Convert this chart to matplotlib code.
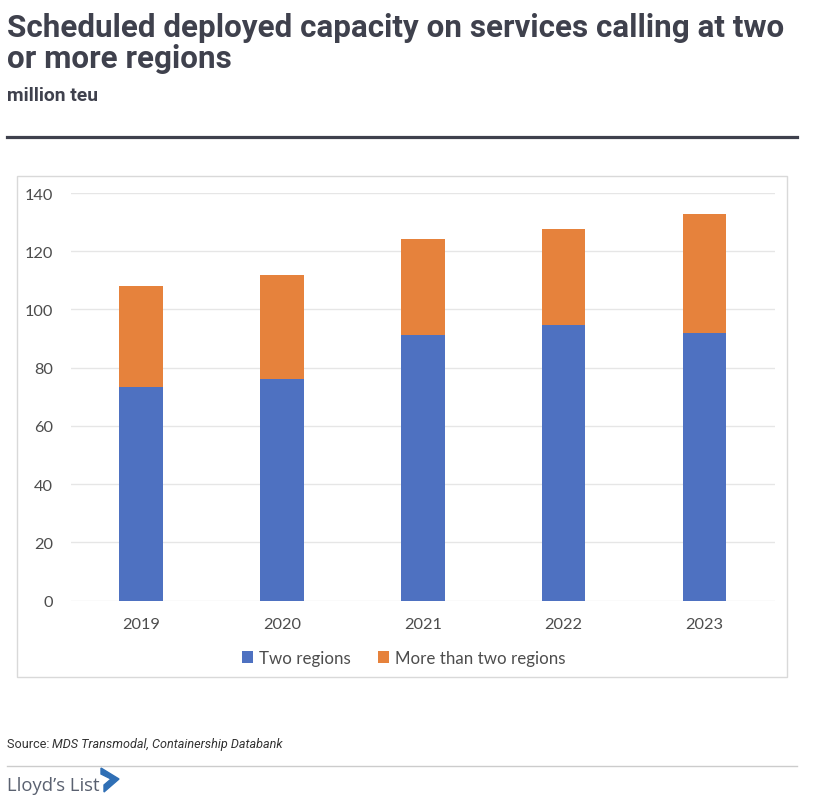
import numpy as np
from matplotlib import pyplot as plt
from matplotlib.patches import Rectangle, Polygon
from matplotlib.lines import Line2D

years = ["2019", "2020", "2021", "2022", "2023"]
two_regions = [73.5, 76.1, 91.4, 94.8, 91.9]
more_than_two = [34.7, 35.9, 32.9, 33.0, 40.8]
series_labels = ["Two regions", "More than two regions"]
yticks = [0, 20, 40, 60, 80, 100, 120, 140]

W, H = 816, 804
fig = plt.figure(figsize=(W / 100, H / 100), dpi=100)

def fx(px):
    return px / W

def fy(py):
    return 1 - py / H

dark = "#3f414d"
tick_col = "#4d4d4d"

# header
fig.text(fx(7), fy(36.7), "Scheduled deployed capacity on services calling at two",
         family="Roboto", weight="bold", size=22.6, color=dark, va="baseline")
fig.text(fx(7), fy(68.3), "or more regions",
         family="Roboto", weight="bold", size=22.6, color=dark, va="baseline")
fig.text(fx(7), fy(100.7), "million teu",
         family="Roboto", weight="bold", size=13.9, color=dark, va="baseline")
fig.add_artist(Line2D([fx(7), fx(797)], [fy(137.5), fy(137.5)], color=dark, lw=2.3))

# chart frame
fig.add_artist(Rectangle((fx(17.3), fy(678.3)), fx(786.7) - fx(17.3), fy(177.3) - fy(678.3),
                         fill=False, edgecolor="#d9d9d9", lw=1))

ax = fig.add_axes([fx(70.5), fy(601.7), fx(775) - fx(70.5), fy(194) - fy(601.7)])
x = np.arange(len(years))
ax.bar(x, two_regions, width=0.31, color="#4E71C1", label=series_labels[0], zorder=3)
ax.bar(x, more_than_two, width=0.31, bottom=two_regions, color="#E6823C",
       label=series_labels[1], zorder=3)
ax.set_xlim(-0.5, len(years) - 0.5)
ax.set_ylim(0, 140)
ax.set_yticks(yticks)
ax.set_xticks(x)
ax.set_xticklabels(years)
for s in ax.spines.values():
    s.set_visible(False)
ax.grid(axis="y", color="#e6e6e6", lw=1, zorder=0)
ax.tick_params(axis="both", length=0, labelsize=11.8, labelcolor=tick_col)
ax.tick_params(axis="y", pad=12.5)
ax.tick_params(axis="x", pad=12)
for lab in ax.get_xticklabels() + ax.get_yticklabels():
    lab.set_family("Lato")

handles, labels = ax.get_legend_handles_labels()
fig.legend(handles, labels, loc="center", bbox_to_anchor=(fx(404), fy(659)), ncol=2,
           frameon=False, prop={"family": "Lato", "size": 12.2},
           handlelength=0.65, handleheight=0.65, handletextpad=0.35, columnspacing=1.6,
           labelcolor=tick_col)

# footer
t = fig.text(fx(7), fy(745), "Source: ", family="Roboto", size=9.1, color="#333333", va="center")
fig.canvas.draw()
bb = t.get_window_extent()
fig.text(bb.x1 / W, fy(745), "MDS Transmodal, Containership Databank", family="Roboto",
         style="italic", size=9.1, color="#333333", va="center")
fig.add_artist(Line2D([fx(7), fx(797)], [fy(766.7), fy(766.7)], color="#cccccc", lw=1))
fig.text(fx(7), fy(786), "Lloyd\u2019s List", family="Open Sans", size=13.3, color="#5a6170",
         va="center")
fig.add_artist(Polygon([(fx(101), fy(769)), (fx(119), fy(780)), (fx(104), fy(793)),
                        (fx(104), fy(786)), (fx(111), fy(780)), (fx(101), fy(775))],
                       closed=True, color="#2f6fb5"))

fig.savefig("out.png", dpi=100, facecolor="white")
